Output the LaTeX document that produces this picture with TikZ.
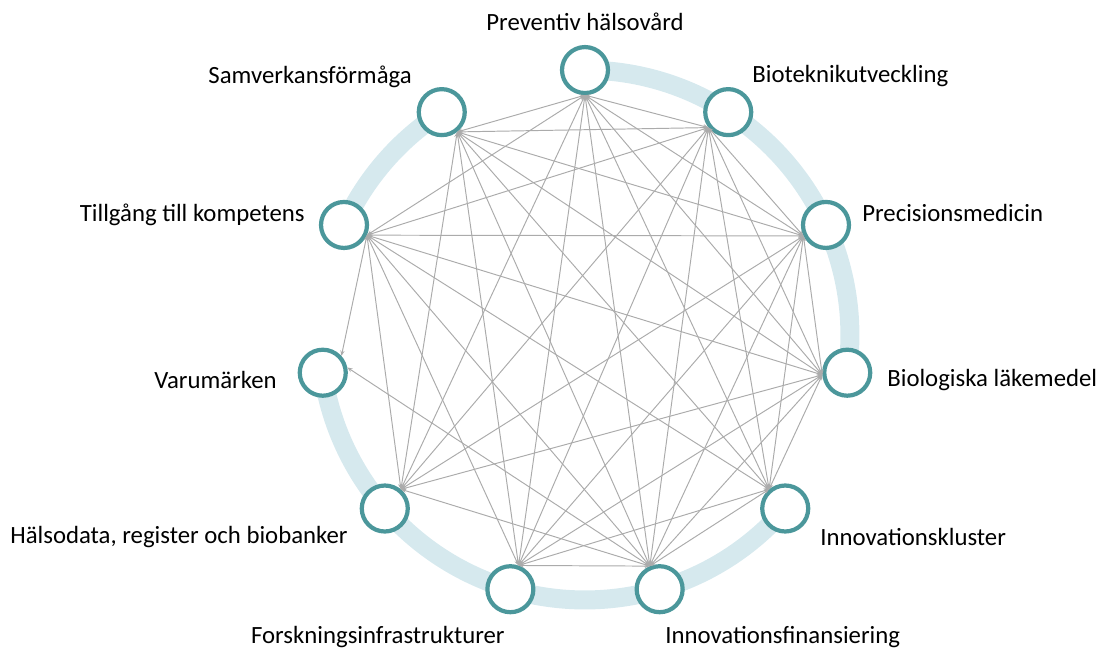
\documentclass[tikz,border=0pt]{standalone}
\usepackage{fontspec}
\setmainfont{Carlito}
\usetikzlibrary{arrows.meta}

\definecolor{ringblue}{HTML}{D6E9EE}
\definecolor{nodeteal}{HTML}{4B979B}
\definecolor{linkgray}{HTML}{ABABAB}

\tikzset{
  area/.style={circle, draw=nodeteal, line width=2.4pt, fill=white, minimum size=0.92cm, inner sep=0pt},
  link/.style={linkgray, line width=0.55pt, {Stealth[length=3pt,width=2.4pt]}-{Stealth[length=3pt,width=2.4pt]}},
  ring/.style={ringblue, line width=0.38cm},
  lbl/.style={font=\fontsize{14.1}{16}\selectfont, inner sep=0pt}
}

\begin{document}
\begin{tikzpicture}[x=0.02cm, y=-0.02cm]
  \useasboundingbox (0,0) rectangle (1096,650);

  % ring segments
  \draw[ring] ([shift={(90:5.3cm)}]585,335) arc[start angle=90, end angle=-8.18, radius=5.3cm];
  \draw[ring] ([shift={(-40.91:5.3cm)}]585,335) arc[start angle=-40.91, end angle=-171.82, radius=5.3cm];
  \draw[ring] ([shift={(155.45:5.3cm)}]585,335) arc[start angle=155.45, end angle=122.73, radius=5.3cm];

  % areas on the circle
  \foreach \n [count=\k from 0] in {P,B,PM,BL,IK,IF,FI,HD,V,T,S}
    \node[area] (\n) at ([shift={(90-32.727*\k:5.3cm)}]585,335) {};

  % where the links meet each circle
  \foreach \n/\ang in {P/-90, B/218, PM/206, BL/185, IK/130, IF/113, FI/71, HD/50, T/336, S/308}
    \coordinate (\n-in) at (\n.\ang);

  % links
  \foreach \a/\b in {P/B, P/PM, P/BL, P/IK, P/IF, P/FI, P/HD, P/T, P/S,
                     B/PM, B/BL, B/IK, B/IF, B/FI, B/HD, B/T, B/S,
                     PM/BL, PM/IK, PM/IF, PM/FI, PM/HD, PM/T, PM/S,
                     BL/IK, BL/IF, BL/FI, BL/HD, BL/T, BL/S,
                     IK/IF, IK/FI, IK/T, IK/S,
                     IF/FI, IF/HD, IF/T, IF/S,
                     FI/T, FI/S,
                     HD/T, HD/S}
    \draw[link] (\a-in) -- (\b-in);
  \draw[link] (V.42) -- (T-in);
  \draw[link] (V.12) -- (IF-in);

  % labels
  \node[lbl] (lP) at (585,22) {Preventiv hälsovård};
  \node[lbl, anchor=west] (lB) at (752,76) {Bioteknikutveckling};
  \node[lbl, anchor=west] (lPM) at (862,213) {Precisionsmedicin};
  \node[lbl, anchor=west] (lBL) at (887,380) {Biologiska läkemedel};
  \node[lbl, anchor=west] (lIK) at (820,537) {Innovationskluster};
  \node[lbl, anchor=west] (lIF) at (665,637) {Innovationsfinansiering};
  \node[lbl, anchor=east] (lFI) at (505,637) {Forskningsinfrastrukturer};
  \node[lbl, anchor=east] (lHD) at (348,537) {Hälsodata, register och biobanker};
  \node[lbl, anchor=east] (lV) at (277,380) {Varumärken};
  \node[lbl, anchor=east] (lT) at (305,215) {Tillgång till kompetens};
  \node[lbl, anchor=east] (lS) at (412,77) {Samverkansförmåga};
\end{tikzpicture}
\end{document}
